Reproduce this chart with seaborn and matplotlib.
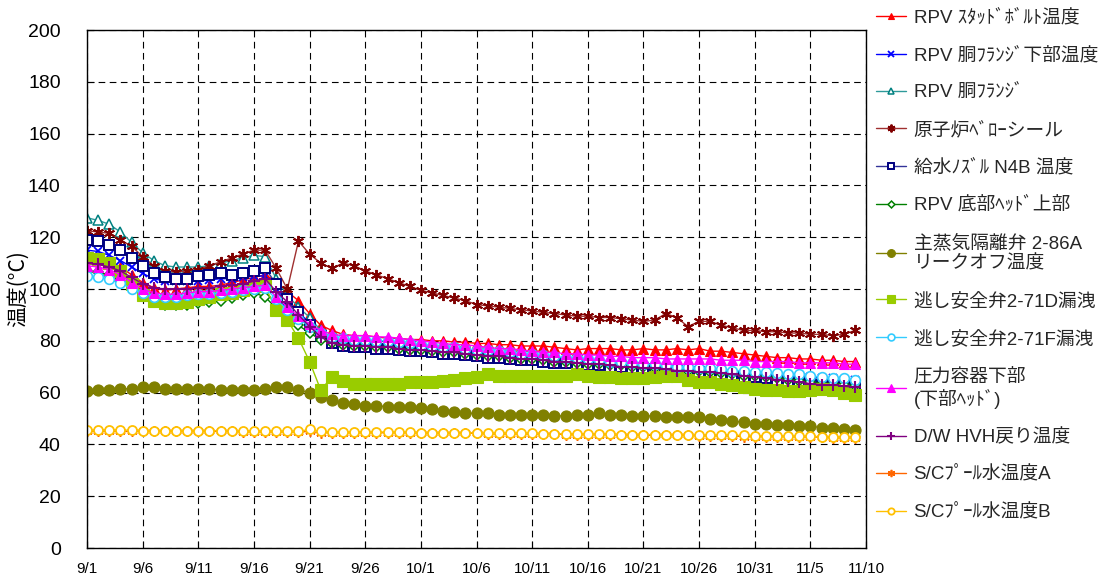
import matplotlib
matplotlib.use("Agg")
import matplotlib.pyplot as plt
from matplotlib.font_manager import FontProperties
import seaborn as sns
import numpy as np

# ---------------- data ----------------
days = list(range(70))  # 9/1 .. 11/9
tick_pos = list(range(0, 71, 5))
tick_labels = ["9/1", "9/6", "9/11", "9/16", "9/21", "9/26", "10/1", "10/6",
               "10/11", "10/16", "10/21", "10/26", "10/31", "11/5", "11/10"]

stud_bolt = [112, 111.5, 110.5, 108.5, 105.5, 102.5, 100.5, 99.5, 100, 100.5,
             101, 101, 101.5, 102.5, 103.5, 104.5, 105.5, 103, 99, 95.5,
             90.5, 86, 84, 82.5, 82, 82, 81.5, 81, 81, 80.5,
             80.5, 80, 80, 79.5, 79.5, 79, 79, 78.5, 78.5, 78,
             78, 78, 77.5, 77, 76.5, 77, 77, 77, 76.5, 76.5,
             77, 76.5, 76.5, 77, 76.5, 77, 76, 76, 75.5, 75,
             74.5, 74, 73.5, 73.5, 73, 73, 72.5, 72.5, 72, 72]
flange_lower = [115, 114.5, 113, 111, 108.5, 106, 104, 103, 103, 103,
                103, 103.5, 104, 104, 104.5, 105, 105, 100, 95, 91,
                87, 83, 80, 78.5, 78, 78, 77.5, 77, 77, 76.5,
                76, 76, 75.5, 75, 75, 74.5, 74, 74, 73.5, 73,
                73, 72.5, 72, 72, 71.5, 71, 71, 70.5, 70, 70,
                69.5, 69.5, 69, 68.5, 68.5, 68, 68, 67.5, 67.5, 67,
                67, 66.5, 66.5, 66, 66, 66, 65.5, 65.5, 65, 65]
flange = [127.5, 126.5, 125, 122, 118, 114, 111, 109, 108.5, 108.5,
          108.5, 109, 110, 111, 112, 113, 112.5, 104, 97.5, 93,
          89, 84, 80.5, 79.5, 79, 79, 78.5, 78.5, 78, 77.5,
          77.5, 77, 76.5, 76.5, 76, 75.5, 75, 75, 74.5, 74,
          74, 73.5, 73, 72.5, 72.5, 72, 71.5, 71.5, 71, 70.5,
          70.5, 70, 69.5, 69.5, 69, 68.5, 68.5, 68, 67.5, 67.5,
          67, 66.5, 66.5, 66, 65.5, 65.5, 65, 65, 64.5, 64.5]
bellows = [122.5, 122, 121.5, 119, 116.5, 112.5, 109, 107, 106.5, 107,
           107.5, 109, 110.5, 112, 113.5, 115, 115, 108, 100, 118.5,
           113.5, 110, 108, 110, 109, 107, 105.5, 104, 102.5, 101,
           99.5, 98.5, 97.5, 96.5, 95.5, 94, 93.5, 93, 92.5, 92,
           91.5, 91, 90.5, 90, 89.5, 89.5, 89, 89, 88.5, 88,
           87.5, 88, 90.5, 89, 85.5, 87.5, 87.5, 86, 85, 84,
           84, 83.5, 83.5, 83, 83, 82.5, 82.5, 82, 82.5, 84]
nozzle = [119, 118.5, 117, 115, 112, 109, 106, 104.5, 104, 104,
          105, 105.5, 106, 105.5, 106, 107, 108, 102, 96, 91,
          86, 82, 79, 78, 77.5, 77.5, 77, 77, 76.5, 76,
          76, 75.5, 75, 75, 74.5, 74, 73.5, 73.5, 73, 72.5,
          72.5, 72, 71.5, 71.5, 71, 70.5, 70.5, 70, 70, 69.5,
          69.5, 69, 68.5, 68.5, 68, 68, 67.5, 67, 66.5, 66,
          66, 65.5, 65, 64.5, 64, 63.5, 63, 63, 62.5, 62]
bottom_head = [107, 106.5, 105.5, 103, 100, 97.5, 95, 94, 94, 94,
               94.5, 95, 95.5, 96.5, 97.5, 98.5, 97, 92.5, 89.5, 86,
               83, 80.5, 79, 78.5, 78, 78, 77.5, 77.5, 77, 76.5,
               76.5, 76, 75.5, 75.5, 75, 74.5, 74, 74, 73.5, 73,
               73, 72.5, 72, 72, 71.5, 71, 71, 70.5, 70.5, 70,
               70, 69.5, 69, 69, 68.5, 68.5, 68, 67.5, 67, 66.5,
               66.5, 66, 65.5, 65, 64.5, 64, 63.5, 63.5, 63, 62.5]
msiv = [60.5, 61, 61, 61.5, 61.5, 62, 62, 61.5, 61.5, 61.5,
        61.5, 61.5, 61, 61, 61, 61, 61.5, 62, 62, 61,
        60, 58.5, 57, 56, 55.5, 55, 55, 54.5, 54.5, 54.5,
        54, 53.5, 53, 52.5, 52, 52, 52, 51.5, 51.5, 51.5,
        51.5, 51.5, 51, 51, 51.5, 51.5, 52, 51.5, 51.5, 51,
        51, 51, 50.5, 50.5, 50.5, 50.5, 50, 49.5, 49, 48.5,
        48, 48, 47.5, 47.5, 47, 47, 46.5, 46.5, 46, 45.5]
srv_d = [112, 111.5, 110, 107, 102, 97.5, 95.5, 94.5, 94.5, 95,
         96, 97, 98, 98.5, 99.5, 101, 101, 92, 88, 81,
         72, 61, 66, 64.5, 63.5, 63.5, 63.5, 63.5, 63.5, 64,
         64, 64, 64.5, 65, 65.5, 66, 67, 66.5, 66.5, 66.5,
         66.5, 66.5, 66.5, 66.5, 67, 66.5, 66, 66, 65.5, 65.5,
         65.5, 66, 66.5, 66.5, 65, 64, 64, 63.5, 63, 62,
         61.5, 61, 61, 60.5, 60.5, 61, 61.5, 61, 60, 59]
srv_f = [105, 104.5, 104, 102.5, 100, 98.5, 97, 97, 97, 97.5,
         98, 98, 98.5, 99, 99.5, 100, 100.5, 96, 92, 88.5,
         85.5, 83, 81.5, 81, 80.5, 80.5, 80, 80, 79.5, 79,
         78.5, 78, 77.5, 77.5, 77, 76.5, 76.5, 76, 75.5, 75,
         75, 74.5, 74, 73.5, 73.5, 73, 72.5, 72, 72, 71.5,
         71, 71, 70.5, 70, 70, 69.5, 69.5, 69, 68.5, 68.5,
         68, 68, 67.5, 67, 67, 66.5, 66, 65.5, 65.5, 65]
vessel_bottom = [109, 108.5, 107.5, 105.5, 102.5, 100, 98.5, 98, 98, 98.5,
                 99, 99, 99.5, 100, 100.5, 101, 101.5, 97, 93, 89.5,
                 86.5, 84, 82.5, 82, 82, 82, 81.5, 81.5, 81, 80.5,
                 80, 79.5, 79, 78.5, 78.5, 78, 77.5, 77, 77, 76.5,
                 76, 75.5, 75.5, 75, 75, 74.5, 74.5, 74, 74, 73.5,
                 73.5, 73.5, 73, 73, 73, 73, 73, 72.5, 72.5, 72.5,
                 72, 72, 72, 72, 71.5, 71.5, 71.5, 71.5, 71, 71]
dw_hvh = [110, 109.5, 108.5, 107, 104.5, 102, 100.5, 100, 100, 100,
          100.5, 100.5, 101, 101.5, 102, 103, 104, 99, 95, 90,
          85.5, 81.5, 79, 78.5, 78, 78, 77.5, 77.5, 77, 76.5,
          76.5, 76, 75.5, 75.5, 75, 74.5, 74, 74, 73.5, 73,
          73, 72.5, 72, 72, 71.5, 71, 71, 70.5, 70, 70,
          69.5, 69.5, 69, 68.5, 68.5, 68, 68, 67.5, 67, 66.5,
          66, 65.5, 65, 64.5, 64, 63.5, 63, 63, 62.5, 62]
sc_a = [45, 45, 45, 45, 45, 45, 45, 45, 45, 45,
        45, 45, 45, 45, 44.8, 44.8, 44.8, 44.8, 44.8, 44.8,
        45, 44.5, 44.5, 44.5, 44.5, 44.5, 44.5, 44.5, 44.5, 44.5,
        44.3, 44.3, 44.3, 44.3, 44.3, 44.3, 44, 44, 44, 44,
        44, 44, 44, 43.8, 43.8, 43.8, 43.8, 43.8, 43.5, 43.5,
        43.5, 43.5, 43.5, 43.5, 43.5, 43.3, 43.3, 43.3, 43.3, 43,
        43, 43, 43, 43, 42.8, 42.8, 42.8, 42.5, 42.5, 42.5]
sc_b = [45.5, 45.5, 45.5, 45.5, 45.5, 45.3, 45.3, 45.3, 45.3, 45.3,
        45.3, 45.3, 45.3, 45.2, 45.2, 45.2, 45.2, 45.2, 45, 45,
        45.8, 45, 44.8, 44.8, 44.8, 44.8, 44.8, 44.8, 44.7, 44.7,
        44.6, 44.6, 44.6, 44.5, 44.5, 44.5, 44.4, 44.3, 44.3, 44.3,
        44.3, 44.2, 44.2, 44.1, 44.1, 44, 44, 44, 43.8, 43.8,
        43.8, 43.8, 43.8, 43.7, 43.7, 43.6, 43.6, 43.6, 43.5, 43.5,
        43.4, 43.3, 43.3, 43.2, 43.2, 43.1, 43, 43, 42.8, 42.8]

labels = ["RPV ｽﾀｯﾄﾞﾎﾞﾙﾄ温度", "RPV 胴ﾌﾗﾝｼﾞ下部温度", "RPV 胴ﾌﾗﾝｼﾞ",
          "原子炉ﾍﾞﾛｰシール", "給水ﾉｽﾞﾙ N4B 温度", "RPV 底部ﾍｯﾄﾞ上部",
          "主蒸気隔離弁 2-86A\nリークオフ温度", "逃し安全弁2-71D漏洩",
          "逃し安全弁2-71F漏洩", "圧力容器下部\n(下部ﾍｯﾄﾞ)", "D/W HVH戻り温度",
          "S/Cﾌﾟｰﾙ水温度A", "S/Cﾌﾟｰﾙ水温度B"]
values = [stud_bolt, flange_lower, flange, bellows, nozzle, bottom_head, msiv,
          srv_d, srv_f, vessel_bottom, dw_hvh, sc_a, sc_b]

ASTER = (6, 2, 0)
# (line color, marker, face, edge, size, edge width)
styles = [
    ("#FF0000", "^", "#FF0000", "#FF0000", 7, 0.8),
    ("#0000FF", "x", "#0000FF", "#0000FF", 6, 1.3),
    ("#2E9A9A", "^", "white", "#008080", 7, 1.1),
    ("#A03030", ASTER, "#800000", "#800000", 8, 1.4),
    ("#333399", "s", "white", "#000080", 7, 1.4),
    ("#008000", "D", "white", "#008000", 5, 1.1),
    ("#808000", "o", "#808000", "#808000", 8, 0.8),
    ("#99CC00", "s", "#99CC00", "#99CC00", 8, 0.8),
    ("#33CCFF", "o", "white", "#33CCFF", 7, 1.2),
    ("#FF00FF", "^", "#FF00FF", "#FF00FF", 7.5, 0.8),
    ("#800080", "+", "#800080", "#800080", 8, 1.5),
    ("#FF6600", ASTER, "#FF6600", "#FF6600", 7.5, 1.2),
    ("#FFC000", "o", "white", "#FFC000", 6.5, 1.3),
]

# ---------------- plot ----------------
sns.set_style("white")
plt.rcParams["font.family"] = ["Liberation Sans", "Noto Sans CJK JP", "DejaVu Sans"]

fig = plt.figure(figsize=(11.16, 5.82), dpi=100)
ax = fig.add_axes([0.078, 0.0584, 0.698, 0.89])

handles = []
for lab, vals, (lc, mk, fc, ec, ms, mew) in zip(labels, values, styles):
    sns.lineplot(x=days, y=vals, ax=ax, color=lc, marker=mk, markersize=ms,
                 markerfacecolor=fc, markeredgecolor=ec, markeredgewidth=mew,
                 linewidth=1.0, errorbar=None, legend=False)
    handles.append(ax.lines[-1])

ax.set_xlim(0, 70)
ax.set_ylim(0, 200)
ax.set_xticks(tick_pos)
ax.set_xticklabels(tick_labels, fontproperties=FontProperties(
    family=["Liberation Sans Narrow", "Liberation Sans"], size=11))
ax.set_yticks(range(0, 201, 20))
ax.set_yticklabels([str(v) for v in range(0, 201, 20)],
                   fontproperties=FontProperties(family=["Liberation Sans"], size=14))
ax.tick_params(axis="both", direction="in", length=5, width=0.8, color="black",
               left=True, bottom=True, labelcolor="black")
ax.tick_params(axis="x", pad=10)
ax.tick_params(axis="y", pad=19)
ax.grid(True, color="black", linestyle=(0, (6, 4)), linewidth=0.8)
for sp in ax.spines.values():
    sp.set_color("black")
    sp.set_linewidth(1.0)

ax.set_xlabel("")
ax.set_ylabel("温度(°C)", fontproperties=FontProperties(
    family=["Noto Sans CJK JP", "DejaVu Sans"], size=15), color="black")
ax.yaxis.set_label_coords(-0.074, 0.5)

leg = ax.legend(handles, labels, loc="upper left",
                bbox_to_anchor=(876 / 1116, 1 - 9 / 582),
                bbox_transform=fig.transFigure, frameon=False,
                prop=FontProperties(family=["Liberation Sans", "Noto Sans CJK JP"], size=13.5),
                handlelength=1.6, handletextpad=0.4, labelspacing=1.07,
                markerscale=0.7, borderpad=0, borderaxespad=0)

fig.savefig("out.png", dpi=100)
